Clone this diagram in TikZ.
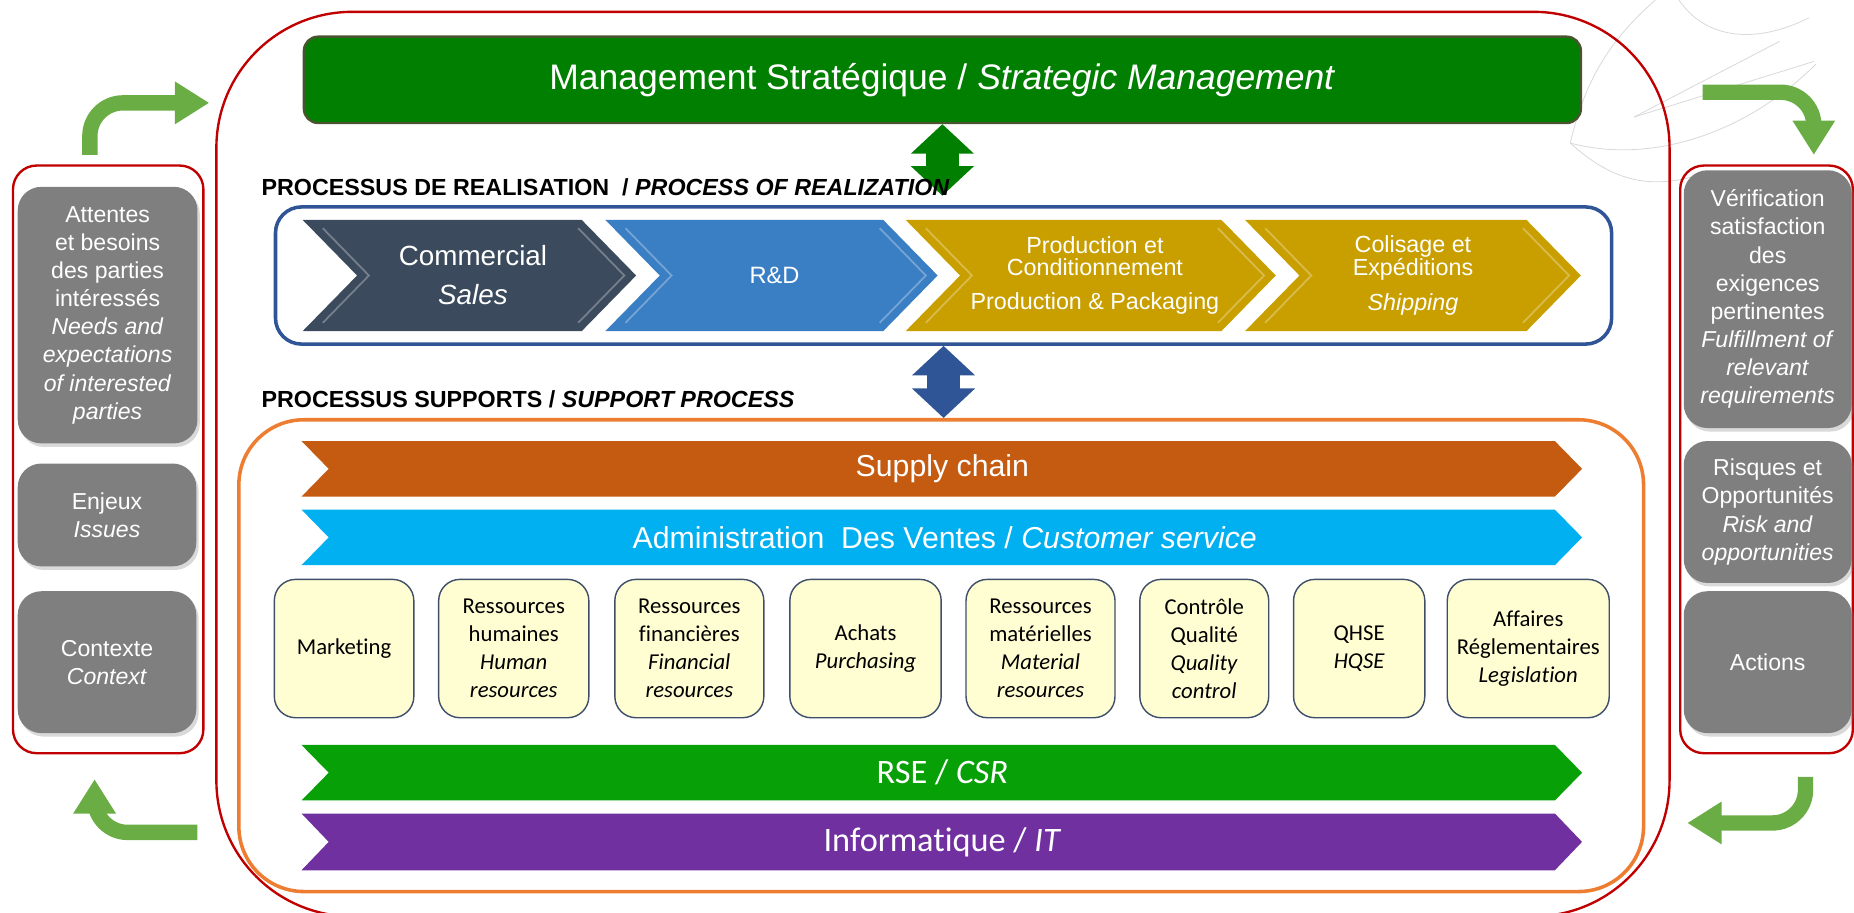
\documentclass[tikz,border=0pt]{standalone}
\usepackage{fontspec}
\setmainfont{Liberation Sans}
\newfontfamily\calibri[Ligatures=NoCommon]{Carlito}
\usetikzlibrary{positioning,arrows.meta,shadows}

\definecolor{redline}{HTML}{C00000}
\definecolor{mgtgreen}{HTML}{007F00}
\definecolor{mgtedge}{HTML}{4A5530}
\definecolor{realblue}{HTML}{2F5597}
\definecolor{supporange}{HTML}{ED7D31}
\definecolor{boxgray}{HTML}{7F7F7F}
\definecolor{arrowgreen}{HTML}{6AAD45}
\definecolor{slate}{HTML}{3B4A5C}
\definecolor{rdblue}{HTML}{3A7EC4}
\definecolor{gold}{HTML}{C99F00}
\definecolor{supply}{HTML}{C55A11}
\definecolor{adv}{HTML}{00B0F0}
\definecolor{rse}{HTML}{07A007}
\definecolor{info}{HTML}{7030A0}
\definecolor{paleyellow}{HTML}{FFFDD2}
\definecolor{boxedge}{HTML}{3F4F6A}

\begin{document}
\begin{tikzpicture}[x=1pt,y=-1pt,
    frame/.style={draw=redline,line width=2pt,inner sep=0pt},
    graybox/.style={fill=boxgray,text=white,rounded corners=20pt,inner sep=0pt,align=center,
      font=\fontsize{19.5}{23.8}\selectfont,
      drop shadow={shadow xshift=2pt,shadow yshift=-3pt,opacity=.3}},
    ybox/.style={fill=paleyellow,draw=boxedge,line width=1.2pt,rounded corners=18pt,inner sep=0pt,
      minimum height=117pt,align=center,font=\calibri\fontsize{19.2}{23.7}\selectfont},
    chevtext/.style={text=white,align=center},
    bandtext/.style={text=white,font=\fontsize{25.6}{30}\selectfont},
    heading/.style={anchor=base west,inner sep=0pt,font=\bfseries\fontsize{19.7}{23}\selectfont},
    bevel/.style={draw=white,opacity=.3,line width=1.5pt},
    leaf/.style={draw=gray!30,line width=.7pt},
    turnarrow/.style={draw=arrowgreen,line width=13pt,rounded corners=28pt,-{Triangle[width=34pt,length=29pt]}},
    twoway/.style={line width=28pt,{Triangle[width=52pt,length=25pt]}-{Triangle[width=52pt,length=25pt]}}]
  \useasboundingbox (0,0) rectangle (1568,772);
  \clip (0,0) rectangle (1568,772);

  % faint logo in the background
  \draw[leaf] (1328,121) .. controls (1340,70) and (1360,35) .. (1400,0);
  \draw[leaf] (1328,121) .. controls (1400,140) and (1480,110) .. (1536,54);
  \draw[leaf] (1328,121) .. controls (1360,150) and (1390,160) .. (1430,150);
  \draw[leaf] (1382,99) -- (1505,35); \draw[leaf] (1382,99) -- (1534,52);
  \draw[leaf] (1420,0) .. controls (1440,30) and (1480,40) .. (1530,15);

  % frames
  \node[frame,rounded corners=115pt,minimum width=1229pt,minimum height=765pt] (core) at (797.5,392.5) {};
  \node[frame,rounded corners=20pt,minimum width=161pt,minimum height=497pt] (inputs) at (91.5,388.5) {};
  \node[frame,rounded corners=20pt,minimum width=146pt,minimum height=497pt] (outputs) at (1494,388.5) {};

  % context boxes
  \node[graybox,minimum width=152pt,minimum height=217pt] (needs) at (91,266.5)
    {Attentes\\et besoins\\des parties\\intéressés\\\textit{Needs and}\\\textit{expectations}\\\textit{of interested}\\\textit{parties}};
  \node[graybox,minimum width=151pt,minimum height=87pt] (issues) at (90.5,435.5) {Enjeux\\\textit{Issues}};
  \node[graybox,minimum width=151pt,minimum height=120pt] (context) at (90.5,560) {Contexte\\\textit{Context}};
  \node[graybox,minimum width=142pt,minimum height=218pt] (verif) at (1495,253)
    {Vérification\\satisfaction\\des\\exigences\\pertinentes\\\textit{Fulfillment of}\\\textit{relevant}\\\textit{requirements}};
  \node[graybox,minimum width=142pt,minimum height=120pt] (risks) at (1495,433)
    {Risques et\\Opportunités\\\textit{Risk and}\\\textit{opportunities}};
  \node[graybox,minimum width=142pt,minimum height=120pt] (actions) at (1495,560) {Actions};

  % loop arrows
  \coordinate (tl1) at (76,131); \coordinate (tl2) at (177,87);
  \coordinate (tr1) at (1440,78); \coordinate (tr2) at (1534,131);
  \coordinate (br1) at (1527,657); \coordinate (br2) at (1427,696);
  \coordinate (bl1) at (167,704); \coordinate (bl2) at (80,659);
  \draw[turnarrow] (tl1) |- (tl2);
  \draw[turnarrow] (tr1) -| (tr2);
  \draw[turnarrow] (br1) |- (br2);
  \draw[turnarrow] (bl1) -| (bl2);

  % strategic management
  \node[fill=mgtgreen,draw=mgtedge,line width=2pt,rounded corners=12pt,minimum width=1080pt,minimum height=73pt,
    text=white,font=\fontsize{30}{36}\selectfont] (mgt) at (797,67.5) {Management Stratégique / \textit{Strategic Management}};

  % realization
  \node[draw=realblue,line width=3pt,rounded corners=22pt,minimum width=1130pt,minimum height=116pt] (real) at (798,233) {};
  \fill[slate] (256,186) -- (492,186) -- (538,233) -- (492,280) -- (256,280) -- (302,233) -- cycle;
  \fill[rdblue] (512,186) -- (747,186) -- (793,233) -- (747,280) -- (512,280) -- (558,233) -- cycle;
  \fill[gold] (766,186) -- (1033,186) -- (1079,233) -- (1033,280) -- (766,280) -- (812,233) -- cycle;
  \fill[gold] (1053,186) -- (1291,186) -- (1337,233) -- (1291,280) -- (1053,280) -- (1099,233) -- cycle;
  \draw[bevel] (489,193) -- (528,233) -- (489,273); \draw[bevel] (273,193) -- (312,233) -- (273,273);
  \draw[bevel] (744,193) -- (783,233) -- (744,273); \draw[bevel] (529,193) -- (568,233) -- (529,273);
  \draw[bevel] (1030,193) -- (1069,233) -- (1030,273); \draw[bevel] (783,193) -- (822,233) -- (783,273);
  \draw[bevel] (1288,193) -- (1327,233) -- (1288,273); \draw[bevel] (1070,193) -- (1109,233) -- (1070,273);
  \node[chevtext,font=\fontsize{23.5}{33}\selectfont] (com) at (400,233) {Commercial\\\textit{Sales}};
  \node[chevtext,font=\fontsize{20}{24}\selectfont] (rd) at (655,233) {R\&D};
  \node[chevtext,font=\fontsize{19.7}{18.5}\selectfont] (prod) at (926,233) {Production et\\Conditionnement\\[11pt]Production \& Packaging};
  \node[chevtext,font=\fontsize{19.7}{18.5}\selectfont] (ship) at (1195,233) {Colisage et\\Expéditions\\[11pt]\textit{Shipping}};

  % support processes
  \node[draw=supporange,line width=3pt,rounded corners=55pt,minimum width=1188pt,minimum height=399pt] (supp) at (796,554.5) {};
  \fill[supply] (255,373) -- (1315,373) -- (1338,396.5) -- (1315,420) -- (255,420) -- (278,396.5) -- cycle;
  \fill[adv] (255,431) -- (1315,431) -- (1338,454.5) -- (1315,478) -- (255,478) -- (278,454.5) -- cycle;
  \fill[rse] (255,630) -- (1315,630) -- (1338,653.5) -- (1315,677) -- (255,677) -- (278,653.5) -- cycle;
  \fill[info] (255,688) -- (1315,688) -- (1338,712) -- (1315,736) -- (255,736) -- (278,712) -- cycle;
  \node[bandtext] (chain) at (797,396.5) {Supply chain};
  \node[bandtext] (adv) at (799,454.5) {Administration\ \ Des Ventes / \textit{Customer service}};
  \node[bandtext,font=\calibri\fontsize{29}{34}\selectfont] (rse) at (797,653.5) {RSE / \textit{CSR}};
  \node[bandtext,font=\calibri\fontsize{29}{34}\selectfont] (it) at (797,712) {Informatique / \textit{IT}};

  \node[ybox,minimum width=118pt] (mkt) at (291,548.5) {Marketing};
  \node[ybox,minimum width=127pt] (hr) at (434.5,548.5) {Ressources\\humaines\\\textit{Human}\\\textit{resources}};
  \node[ybox,minimum width=126pt] (fin) at (583,548.5) {Ressources\\financières\\\textit{Financial}\\\textit{resources}};
  \node[ybox,minimum width=128pt] (buy) at (732,548.5) {Achats\\\textit{Purchasing}};
  \node[ybox,minimum width=126pt] (mat) at (880,548.5) {Ressources\\matérielles\\\textit{Material}\\\textit{resources}};
  \node[ybox,minimum width=109pt] (qc) at (1018.5,548.5) {Contrôle\\Qualité\\\textit{Quality}\\\textit{control}};
  \node[ybox,minimum width=111pt] (qhse) at (1149.5,548.5) {QHSE\\\textit{HQSE}};
  \node[ybox,minimum width=137pt] (reg) at (1292.5,548.5) {Affaires\\Réglementaires\\\textit{Legislation}};

  % links between levels
  \draw[twoway,mgtgreen,shorten >=8pt] (mgt.south) -- (mgt.south |- real.north);
  \draw[twoway,realblue] (real.south) -- (real.south |- supp.north);

  \node[heading] (realtitle) at (221,165) {PROCESSUS DE REALISATION\ \ / \textit{PROCESS OF REALIZATION}};
  \node[heading] (supptitle) at (221,345) {PROCESSUS SUPPORTS / \textit{SUPPORT PROCESS}};
\end{tikzpicture}
\end{document}
